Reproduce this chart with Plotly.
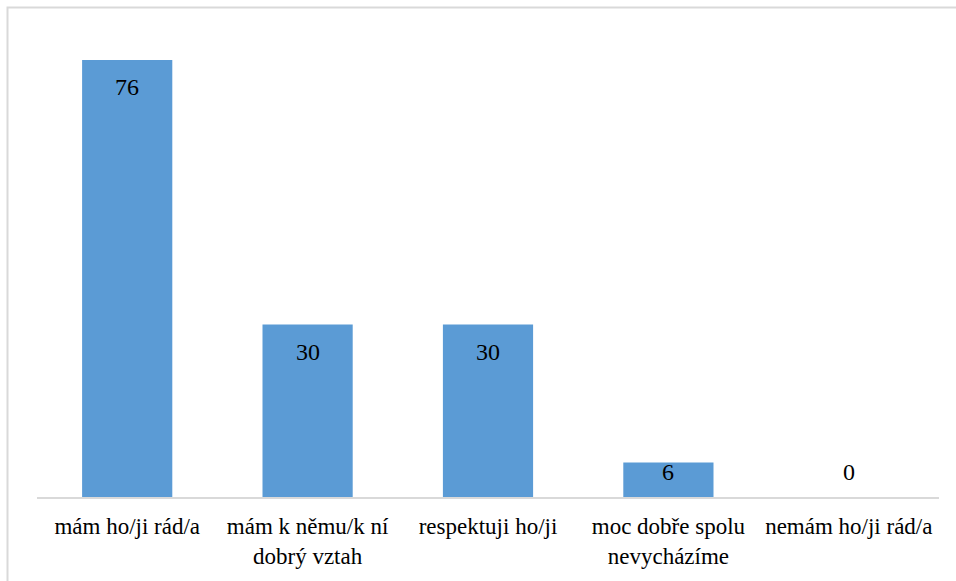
import plotly.graph_objects as go

# Survey answers and counts
categories = [
    "mám ho/ji rád/a",
    "mám k němu/k ní<br>dobrý vztah",
    "respektuji ho/ji",
    "moc dobře spolu<br>nevycházíme",
    "nemám ho/ji rád/a",
]
counts = [76, 30, 30, 6, 0]

W, H = 956, 581
M_L, M_R, M_T, M_B = 37, 17, 37, 84
Y_MAX = 80
plot_w = W - M_L - M_R
plot_h = H - M_T - M_B
px_per_unit = plot_h / Y_MAX

FONT = "Liberation Serif, Times New Roman, serif"
BAR_COLOR = "#5b9bd5"
FRAME = "#d9d9d9"

fig = go.Figure()
fig.add_trace(go.Bar(
    x=categories,
    y=counts,
    marker=dict(color=BAR_COLOR, line=dict(width=0)),
    hoverinfo="x+y",
))

# value labels: just inside the top of each bar, kept off the baseline
inset = 27 / px_per_unit
floor = 25 / px_per_unit
for cat, v in zip(categories, counts):
    fig.add_annotation(
        x=cat, y=max(v - inset, floor), text=str(v), showarrow=False,
        font=dict(family=FONT, size=24, color="black"),
        xanchor="center", yanchor="middle",
    )

# outer chart frame (left/top edges visible)
fig.add_shape(
    type="rect", xref="paper", yref="paper",
    x0=(7.5 - M_L) / plot_w, x1=(W + 5 - M_L) / plot_w,
    y0=-(H + 5 - (H - M_B)) / plot_h, y1=1 + (M_T - 7.5) / plot_h,
    line=dict(color=FRAME, width=2), fillcolor="rgba(0,0,0,0)", layer="below",
)

fig.update_layout(
    width=W, height=H,
    margin=dict(l=M_L, r=M_R, t=M_T, b=M_B, pad=0, autoexpand=False),
    paper_bgcolor="white", plot_bgcolor="white",
    bargap=0.5,
    showlegend=False,
    font=dict(family=FONT, size=23, color="black"),
    xaxis=dict(
        showline=True, linecolor=FRAME, linewidth=2,
        showgrid=False, zeroline=False, ticks="",
        tickfont=dict(family=FONT, size=23, color="black"),
        ticklabelstandoff=7, automargin=False,
    ),
    yaxis=dict(
        range=[0, Y_MAX], visible=False, showgrid=False, zeroline=False,
        automargin=False,
    ),
)

fig.write_html("out.html")
